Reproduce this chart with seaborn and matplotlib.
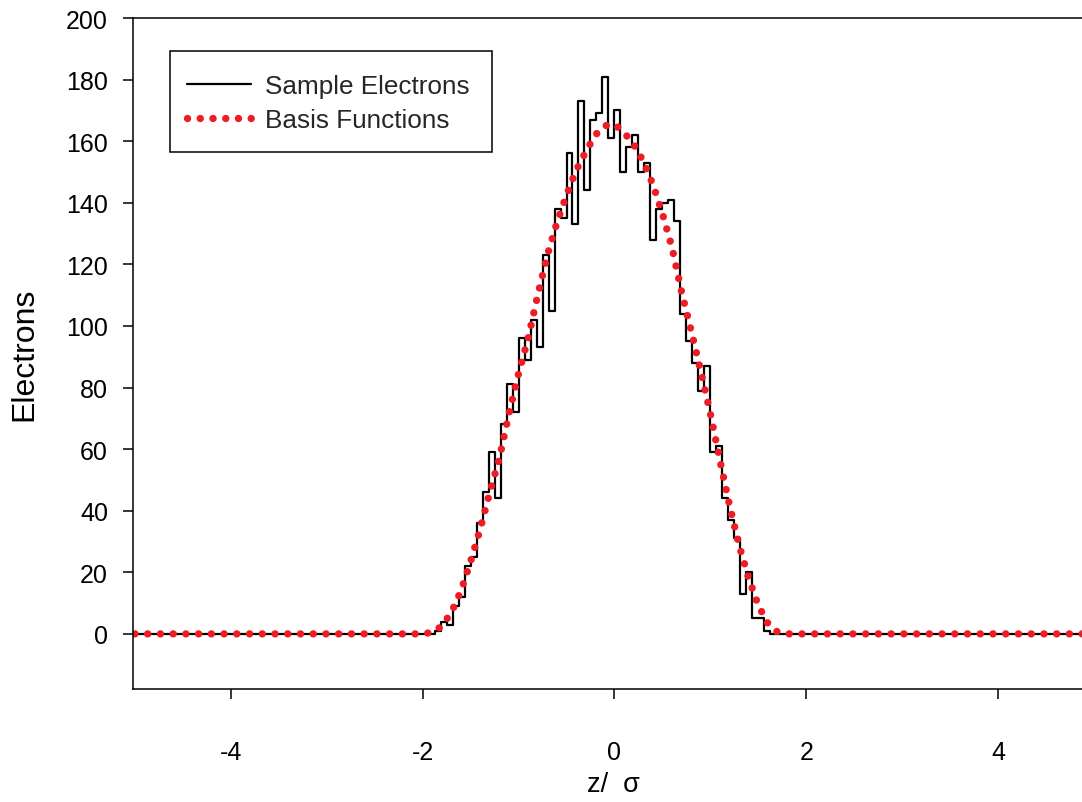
import numpy as np
import pandas as pd
import seaborn as sns
import matplotlib
matplotlib.use("Agg")
import matplotlib.pyplot as plt
from matplotlib.patches import Rectangle
from matplotlib.lines import Line2D

# ---- data ----
bin_width = 0.0625
first_bin_index = -30          # left edge of first non-empty bin = -30 * 0.0625
sample_counts = [1, 4, 3, 9, 12, 22, 25, 36, 46, 59,
                 44, 68, 81, 72, 96, 89, 102, 93, 123, 105,
                 138, 135, 156, 133, 173, 144, 167, 169, 181, 161,
                 170, 150, 158, 162, 150, 153, 128, 138, 140, 141,
                 134, 104, 95, 88, 79, 87, 59, 61, 44, 37,
                 31, 13, 20, 5, 5, 1]

basis_z = [-5.0, -2.0, -1.9, -1.8, -1.7, -1.6, -1.5, -1.4, -1.3, -1.2, -1.1,
           -1.0, -0.9, -0.8, -0.7, -0.6, -0.5, -0.4, -0.3, -0.2, -0.1,
           0.0, 0.1, 0.2, 0.3, 0.4, 0.5, 0.6, 0.7, 0.8, 0.9,
           1.0, 1.1, 1.2, 1.3, 1.4, 1.5, 1.6, 1.7, 1.8, 5.0]
basis_y = [0.0, 0.0, 0.5, 2.5, 7.0, 14.0, 23.5, 34.0, 46.0, 57.0, 71.5,
           84.5, 96.0, 110.0, 123.0, 133.5, 142.5, 150.5, 156.5, 162.0, 165.0,
           165.5, 162.8, 159.0, 153.5, 146.0, 136.5, 125.5, 111.0, 98.4, 85.3,
           71.5, 56.3, 41.7, 28.7, 18.0, 9.2, 3.4, 0.6, 0.0, 0.0]

x_ticks = [-4, -2, 0, 2, 4]
y_ticks = list(range(0, 201, 20))
legend_labels = ["Sample Electrons", "Basis Functions"]

# ---- style ----
sns.set_theme(style="ticks")
plt.rcParams['font.family'] = ['Liberation Sans', 'DejaVu Sans']

W, H = 1082, 803
fig = plt.figure(figsize=(W / 100, H / 100), dpi=100)
ax_l, ax_r, ax_t, ax_b = 133, 1094, 19, 690
ax = fig.add_axes([ax_l / W, 1 - ax_b / H, (ax_r - ax_l) / W, (ax_b - ax_t) / H])

red = '#EE1C25'
dot_lw = 5.3
dot_style = (0, (0.01, 1.72))

centers = [(first_bin_index + i) * bin_width + bin_width / 2 for i in range(len(sample_counts))]
hist_df = pd.DataFrame({"z": centers, "n": sample_counts})
sns.histplot(data=hist_df, x="z", weights="n", binwidth=bin_width, binrange=(-5, 5),
             element="step", fill=False, color="black", linewidth=1.6, ax=ax)

basis_df = pd.DataFrame({"z": basis_z, "y": basis_y})
sns.lineplot(data=basis_df, x="z", y="y", sort=False, estimator=None, ax=ax,
             color=red, linewidth=dot_lw, linestyle=dot_style,
             dash_capstyle='round')

ax.set_xlim(-5.02, 5.0)
ax.set_ylim(-17.9, 200)
ax.set_xticks(x_ticks)
ax.set_xticklabels([str(t) for t in x_ticks])
ax.set_yticks(y_ticks)
ax.set_yticklabels([str(t) for t in y_ticks])

for s in ['left', 'bottom', 'top', 'right']:
    ax.spines[s].set_linewidth(1.1)
    ax.spines[s].set_color('black')

ax.tick_params(axis='y', direction='out', length=7, width=1.1, pad=11,
               labelsize=18, colors='black', left=True)
ax.tick_params(axis='x', direction='out', length=7, width=1.1, pad=30,
               labelsize=18, colors='black', bottom=True)

ax.set_xlabel("z/  σ", fontsize=19.5, color='black')
ax.xaxis.set_label_coords(0.5, -0.122)
ax.set_ylabel("Electrons", fontsize=23, color='black')
ax.yaxis.set_label_coords(-0.097, 0.5)

# legend
handles = [Line2D([], [], color='black', linewidth=1.6),
           Line2D([], [], color=red, linewidth=dot_lw, linestyle=dot_style,
                  dash_capstyle='round')]
leg = ax.legend(handles, legend_labels, loc='center left',
                bbox_to_anchor=((187 - ax_l) / (ax_r - ax_l), 1 - (104 - ax_t) / (ax_b - ax_t)),
                frameon=False, fontsize=18.8, handlelength=2.45, handletextpad=0.55,
                labelspacing=0.36, borderpad=0.0, borderaxespad=0.0)
box = Rectangle((170, H - 153), 492 - 170, 153 - 52, transform=None,
                fill=False, edgecolor='black', linewidth=1.1, zorder=5)
fig.patches.append(box)

fig.savefig("out.png", dpi=100)
